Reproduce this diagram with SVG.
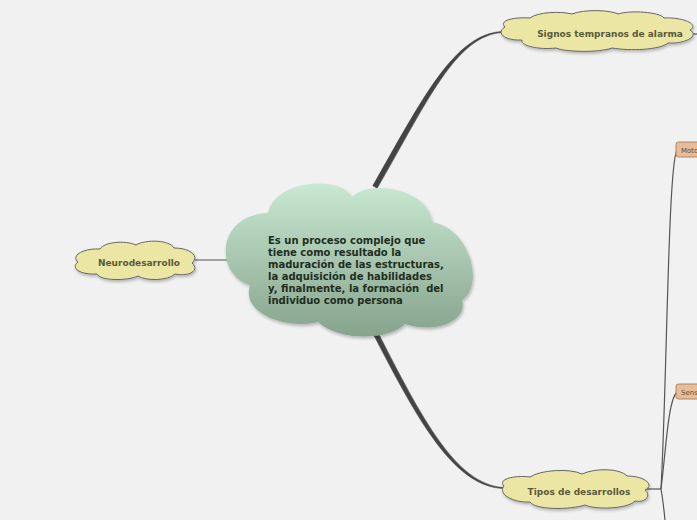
<svg xmlns="http://www.w3.org/2000/svg" width="697" height="520" viewBox="0 0 697 520">
<defs>
<linearGradient id="gc" x1="0" y1="0" x2="0" y2="1">
<stop offset="0" stop-color="#c8e8d2"/>
<stop offset="1" stop-color="#86a38c"/>
</linearGradient>
<filter id="sh" x="-10%" y="-10%" width="130%" height="140%">
<feDropShadow dx="1" dy="2" stdDeviation="1.5" flood-color="#000" flood-opacity="0.25"/>
</filter>
<style>
.bg{fill:#f1f1f1}
.cl{fill:#ebe6a4;stroke:#666;stroke-width:1;filter:url(#sh)}
.lt{font-family:"DejaVu Sans",Verdana,sans-serif;font-weight:bold;font-size:9px;fill:#5a5a3c;text-anchor:middle}
.mt{font-family:"DejaVu Sans",Verdana,sans-serif;font-weight:bold;font-size:10px;fill:#1e2e20}
.bx{fill:#e6bd98;stroke:#b08560;stroke-width:1}
.bt{font-family:"DejaVu Sans",Verdana,sans-serif;font-size:7px;fill:#6b4d33}
.ln{fill:none;stroke:#555;stroke-width:1.2}
.tp{fill:#444;stroke:#444;stroke-width:0.6}
</style>
</defs>
<rect class="bg" x="0" y="0" width="697" height="520"/>
<g id="connectors">
<path class="tp" d="M372.8,185.8 C422.5,98.5 454.5,34 502,31.5 L502,32.5 C455.5,36 427.5,101.5 377.2,188.2 Z"/>
<path class="tp" d="M372.8,333.1 C418,421 454,486.5 503,488.5 L503,487.5 C456,484 422,419 377.2,330.9 Z"/>
<path class="ln" d="M195,260 L228,260"/>
<path class="ln" d="M646,489 L661,489"/>
<path class="ln" d="M661,489 C667,380 668,165 677,150"/>
<path class="ln" d="M661,489 C666,450 668,400 677,392"/>
<path class="ln" d="M661,489 C663,500 664,510 665,520"/>
<path class="ln" d="M692,34 L697,34"/>
</g>
<g id="central">
<path d="M268,213 C275,180 340,175 352,197 C370,178 430,190 432,222 C470,228 485,285 462,300 C468,318 440,335 405,324 C390,340 340,342 318,322 C290,330 240,315 250,285 C215,275 215,215 268,213 Z" fill="url(#gc)" filter="url(#sh)"/>
<text class="mt" x="268" y="244">Es un proceso complejo que</text>
<text class="mt" x="268" y="256">tiene como resultado la</text>
<text class="mt" x="268" y="268">maduración de las estructuras,</text>
<text class="mt" x="268" y="280">la adquisición de habilidades</text>
<text class="mt" x="268" y="292">y, finalmente, la formación&#160; del</text>
<text class="mt" x="268" y="304">individuo como persona</text>
</g>
<g id="neurodesarrollo">
<path class="cl" d="M78,262 C70,255 85,248 100,249 C104,242 125,240 136,245 C146,239 170,240 174,248 C190,248 200,256 192,263 C200,270 190,277 175,274 C168,281 145,281 138,276 C128,281 100,281 97,274 C80,275 70,268 78,262 Z"/>
<text class="lt" x="139" y="266">Neurodesarrollo</text>
</g>
<g id="signos">
<path class="cl" d="M505,27 C498,20 515,17 530,18 C538,12 560,11 572,14 C585,9 610,10 618,14 C630,10 660,12 664,18 C682,17 700,24 690,30 C700,36 685,44 668,43 C660,50 630,51 612,48 C598,53 565,52 556,48 C540,50 520,46 522,40 C505,41 495,33 505,27 Z"/>
<text class="lt" x="610" y="37">Signos tempranos de alarma</text>
</g>
<g id="tipos">
<path class="cl" d="M504,486 C497,479 515,475 530,477 C540,470 570,468 582,474 C595,468 620,468 627,476 C645,476 655,485 645,490 C652,496 645,503 635,501 C628,509 595,510 585,505 C570,510 535,510 530,502 C515,503 497,495 504,486 Z"/>
<text class="lt" x="579" y="495">Tipos de desarrollos</text>
</g>
<g id="motor">
<rect class="bx" x="676" y="142" width="30" height="15" rx="2.5"/>
<text class="bt" x="681" y="153">Motor</text>
</g>
<g id="sensorial">
<rect class="bx" x="676" y="384" width="30" height="15" rx="2.5"/>
<text class="bt" x="681" y="395">Sensorial</text>
</g>
</svg>
